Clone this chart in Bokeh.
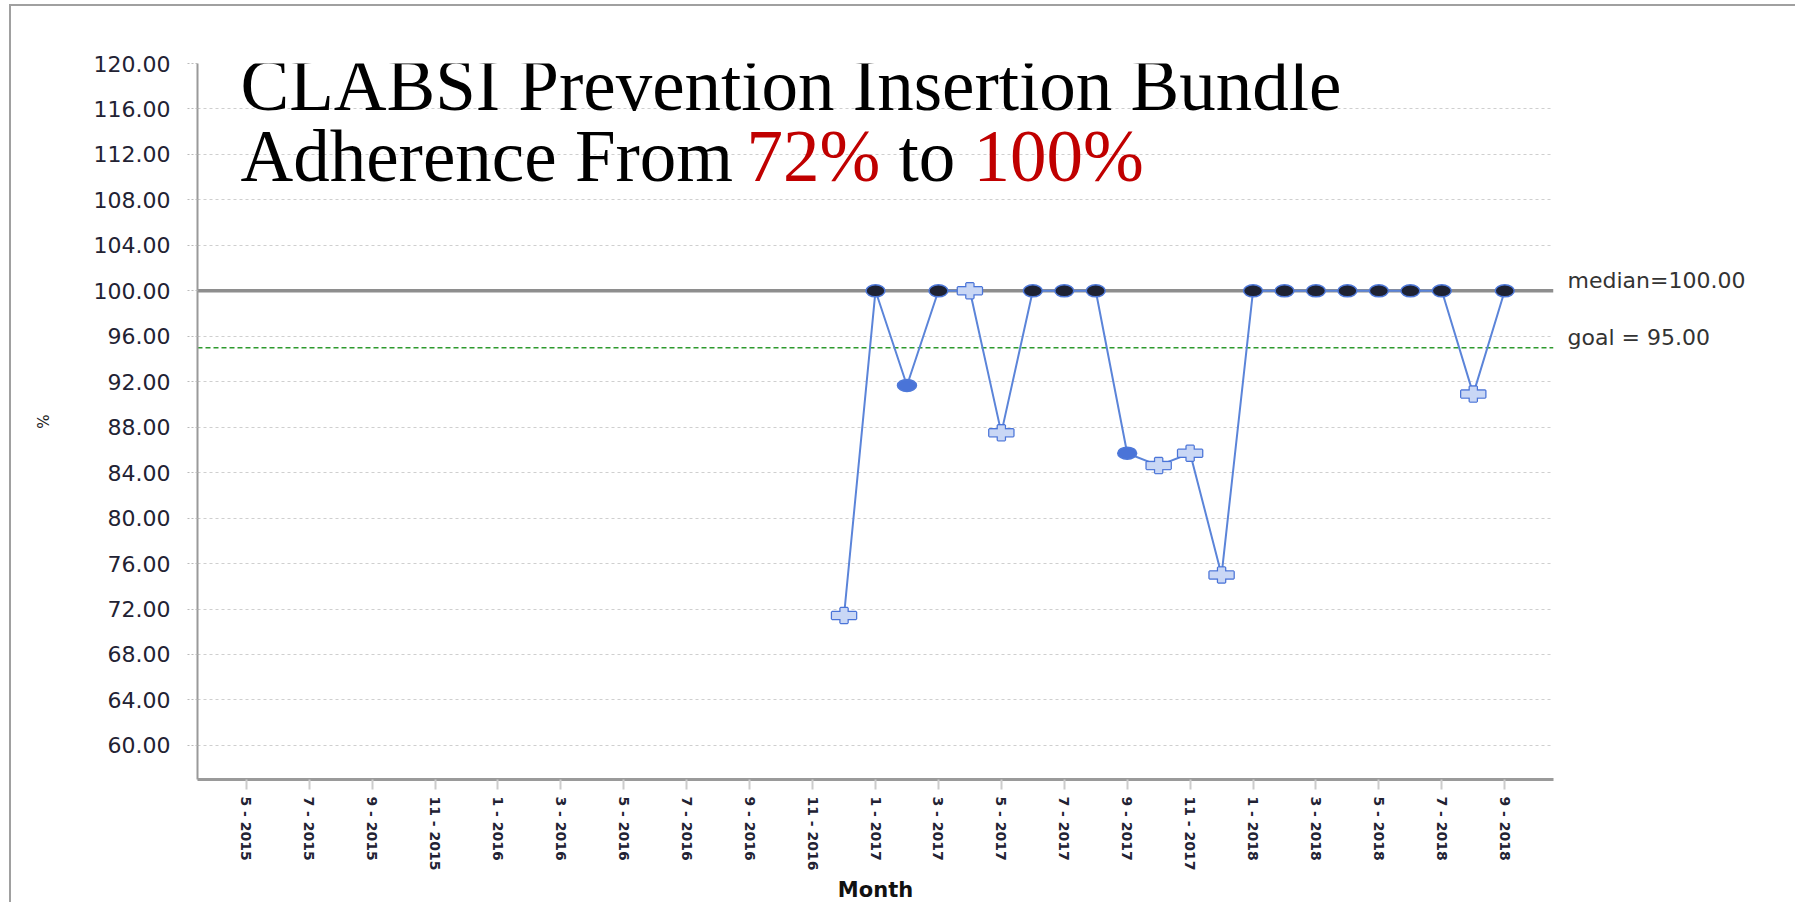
import numpy as np
from bokeh.plotting import figure
from bokeh.models import (Range1d, FixedTicker, PrintfTickFormatter, Span, Label,
                          ColumnDataSource, LinearAxis)
from bokeh.embed import file_html
from bokeh.resources import INLINE

# ---------------- data ----------------
months = ["12-2016", "1-2017", "2-2017", "3-2017", "4-2017", "5-2017", "6-2017",
          "7-2017", "8-2017", "9-2017", "10-2017", "11-2017", "12-2017", "1-2018",
          "2-2018", "3-2018", "4-2018", "5-2018", "6-2018", "7-2018", "8-2018", "9-2018"]
values = [71.43, 100.0, 91.67, 100.0, 100.0, 87.5, 100.0,
          100.0, 100.0, 85.71, 84.62, 85.71, 75.0, 100.0,
          100.0, 100.0, 100.0, 100.0, 100.0, 100.0, 90.91, 100.0]
markers = ["plus", "circle", "circle", "circle", "plus", "plus", "circle",
           "circle", "circle", "circle", "plus", "plus", "plus", "circle",
           "circle", "circle", "circle", "circle", "circle", "circle", "plus", "circle"]
tick_labels = ["5 - 2015", "7 - 2015", "9 - 2015", "11 - 2015", "1 - 2016", "3 - 2016",
               "5 - 2016", "7 - 2016", "9 - 2016", "11 - 2016", "1 - 2017", "3 - 2017",
               "5 - 2017", "7 - 2017", "9 - 2017", "11 - 2017", "1 - 2018", "3 - 2018",
               "5 - 2018", "7 - 2018", "9 - 2018"]
y_ticks = [60, 64, 68, 72, 76, 80, 84, 88, 92, 96, 100, 104, 108, 112, 116, 120]
goal = 95.0
title_line1 = "CLABSI Prevention Insertion Bundle"
title_parts = ["Adherence From", "72%", "to", "100%"]
title_colors = ["black", "#c00000", "black", "#c00000"]


def month_index(s):
    m, y = s.replace(" ", "").split("-")
    return (int(y) - 2015) * 12 + int(m) - 5


x = [month_index(m) for m in months]
median = float(np.median(values))
tick_pos = [month_index(t) for t in tick_labels]

Y0, Y1 = 57.0, 120.0
X0, X1 = -1.55, 41.55

# ---------------- figure ----------------
p = figure(width=1786, height=898, output_backend="svg", toolbar_location=None,
           x_range=Range1d(X0, X1), y_range=Range1d(Y0, Y1),
           min_border_left=186, min_border_right=244, min_border_top=57,
           min_border_bottom=119)
p.outline_line_color = None
p.background_fill_color = "white"
p.border_fill_color = "white"
p.styles = {"border-left": "2px solid #a0a0a0", "border-top": "2px solid #a0a0a0",
            "margin-left": "9px", "margin-top": "4px"}

# axes
p.yaxis.ticker = FixedTicker(ticks=y_ticks)
p.yaxis.formatter = PrintfTickFormatter(format="%.2f")
p.yaxis.major_label_text_font = "DejaVu Sans"
p.yaxis.major_label_text_font_size = "22px"
p.yaxis.major_label_text_color = "#222233"
p.yaxis.major_tick_out = 10
p.yaxis.major_tick_in = 0
p.yaxis.major_tick_line_color = "#bbbbbb"
p.yaxis.major_tick_line_dash = "2 2"
p.yaxis.minor_tick_line_color = None
p.yaxis.major_label_standoff = 17
p.yaxis.axis_line_color = "#9a9a9a"
p.yaxis.axis_line_width = 2
p.yaxis.axis_label = "%"
p.yaxis.axis_label_text_font = "DejaVu Sans"
p.yaxis.axis_label_text_font_size = "15px"
p.yaxis.axis_label_text_font_style = "normal"
p.yaxis.axis_label_text_color = "#222222"
p.yaxis.axis_label_standoff = 38

p.xaxis.ticker = FixedTicker(ticks=tick_pos)
p.xaxis.major_label_overrides = {pos: lab for pos, lab in zip(tick_pos, tick_labels)}
p.xaxis.major_label_orientation = "vertical"
p.xaxis.major_label_text_font = "DejaVu Sans"
p.xaxis.major_label_text_font_size = "14px"
p.xaxis.major_label_text_font_style = "bold"
p.xaxis.major_label_text_color = "#222233"
p.xaxis.major_tick_out = 10
p.xaxis.major_tick_in = 0
p.xaxis.major_tick_line_color = "#cccccc"
p.xaxis.major_tick_line_width = 2
p.xaxis.minor_tick_line_color = None
p.xaxis.major_label_standoff = 7
p.xaxis.axis_line_color = "#9a9a9a"
p.xaxis.axis_line_width = 3
p.xaxis.axis_label = "Month"
p.xaxis.axis_label_text_font = "DejaVu Sans"
p.xaxis.axis_label_text_font_size = "21px"
p.xaxis.axis_label_text_font_style = "bold"
p.xaxis.axis_label_text_color = "#111111"
p.xaxis.axis_label_standoff = 4

p.xgrid.visible = False
p.ygrid.ticker = FixedTicker(ticks=y_ticks)
p.ygrid.grid_line_color = "#cfcfcf"
p.ygrid.grid_line_dash = "3 3"
p.ygrid.grid_line_width = 1

# reference lines
goal_span = Span(location=goal, dimension="width", line_color="#2e9a2e",
                 line_dash="5 3", line_width=1.5, level="underlay")
med_span = Span(location=median, dimension="width", line_color="#8e8e8e",
                line_width=3.5, level="underlay")
p.add_layout(goal_span)
p.add_layout(med_span)

# right-side labels for the reference lines (axis shifted ~10px upward)
lift = 0.87
p.extra_y_ranges = {"lab": Range1d(Y0 - lift, Y1 - lift)}
rax = LinearAxis(y_range_name="lab", ticker=FixedTicker(ticks=[goal, median]),
                 major_label_overrides={goal: f"goal = {goal:.2f}",
                                        median: f"median={median:.2f}"})
rax.axis_line_color = None
rax.major_tick_line_color = None
rax.minor_tick_line_color = None
rax.major_tick_out = 0
rax.major_label_standoff = 14
rax.major_label_text_font = "DejaVu Sans"
rax.major_label_text_font_size = "22px"
rax.major_label_text_color = "#333333"
p.add_layout(rax, "right")

# series line
p.line(x, values, line_color="#5b84d9", line_width=2)

# circle points
cx = [xi for xi, m in zip(x, markers) if m == "circle"]
cy = [v for v, m in zip(values, markers) if m == "circle"]
cfill = ["#1e2233" if v == median else "#4a74d8" for v in cy]
csrc = ColumnDataSource(dict(x=cx, y=cy, fill=cfill))
p.ellipse(x="x", y="y", width=19, height=12, width_units="screen", height_units="screen",
          fill_color="fill", line_color="#4f79d9", line_width=1.5, source=csrc)

# plus points
px = [xi for xi, m in zip(x, markers) if m == "plus"]
py = [v for v, m in zip(values, markers) if m == "plus"]
psrc = ColumnDataSource(dict(x=px, y=py))
for w, h in [(24, 7), (7, 15)]:
    p.rect(x="x", y="y", width=w, height=h, width_units="screen", height_units="screen",
           fill_color="#c9d7f5", line_color="#4a74d8", line_width=2.5, source=psrc)
for w, h in [(24, 7), (7, 15)]:
    p.rect(x="x", y="y", width=w, height=h, width_units="screen", height_units="screen",
           fill_color="#c9d7f5", line_color=None, source=psrc)

# title overlay
p.add_layout(Label(x=X0, y=118.08, x_offset=43, text=title_line1,
                   text_font="Liberation Serif", text_font_size="73px", text_color="black",
                   text_baseline="alphabetic"))
offsets = [43, 549, 701, 776]
for t, c, off in zip(title_parts, title_colors, offsets):
    p.add_layout(Label(x=X0, y=111.8, x_offset=off, text=t,
                       text_font="Liberation Serif", text_font_size="73px", text_color=c,
                       text_baseline="alphabetic"))

open("out.html", "w").write(file_html(p, INLINE))
